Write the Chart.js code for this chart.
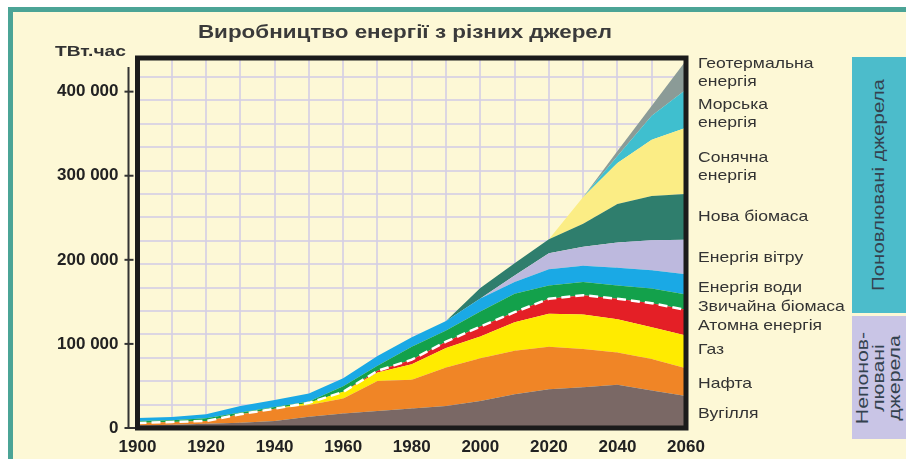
<!DOCTYPE html>
<html>
<head>
<meta charset="utf-8">
<script src="https://cdn.jsdelivr.net/npm/chart.js@4.4.1/dist/chart.umd.min.js"></script>
<style>
body{margin:0;background:#fff;}
#wrap{position:relative;width:906px;height:459px;overflow:hidden;background:#fff;font-family:"Liberation Sans",Arial,sans-serif;}
#panel{position:absolute;left:8px;top:7px;right:0;bottom:0;background:#fdf8d6;border-top:5px solid #4ba496;border-left:5px solid #4ba496;}
#chart{position:absolute;left:0;top:0;}
.lbl{position:absolute;left:698px;font-size:15px;line-height:18px;color:#333;white-space:nowrap;transform:scaleX(1.17);transform-origin:0 0;}
.box{position:absolute;left:852px;width:54px;}
.rot{position:absolute;left:50%;top:50%;white-space:nowrap;text-align:center;color:#34424f;}
</style>
</head>
<body>
<div id="wrap">
  <div id="panel"></div>
  <div class="box" style="top:57px;height:256px;background:#4cbccb;">
    <div class="rot" style="font-size:17px;transform:translate(-50%,-50%) rotate(-90deg) scaleX(1.2);">Поновлювані джерела</div>
  </div>
  <div class="box" style="top:316px;height:123px;background:#c9c5e6;">
    <div class="rot" style="font-size:17px;line-height:16px;transform:translate(-50%,-50%) rotate(-90deg) scaleX(1.25);">Непонов-<br>лювані<br>джерела</div>
  </div>
  <canvas id="chart" width="906" height="459"></canvas>
  <div style="position:absolute;left:405px;top:21px;font-size:19px;line-height:22px;font-weight:bold;color:#3a3a3a;white-space:nowrap;transform:translateX(-50%) scaleX(1.18);">Виробництво енергії з різних джерел</div>
  <div style="position:absolute;left:55px;top:42px;font-size:15px;line-height:18px;font-weight:bold;color:#333;white-space:nowrap;transform:scaleX(1.28);transform-origin:0 0;">ТВт.час</div>
  <div class="lbl" style="top:54px;">Геотермальна<br>енергія</div>
  <div class="lbl" style="top:95px;">Морська<br>енергія</div>
  <div class="lbl" style="top:148px;">Сонячна<br>енергія</div>
  <div class="lbl" style="top:207px;">Нова біомаса</div>
  <div class="lbl" style="top:248px;">Енергія вітру</div>
  <div class="lbl" style="top:278px;">Енергія води</div>
  <div class="lbl" style="top:297px;">Звичайна біомаса</div>
  <div class="lbl" style="top:316px;">Атомна енергія</div>
  <div class="lbl" style="top:340px;">Газ</div>
  <div class="lbl" style="top:374px;">Нафта</div>
  <div class="lbl" style="top:404px;">Вугілля</div>
</div>
<script>
// values, TWh per year
const years   = [1900,1910,1920,1930,1940,1950,1960,1970,1980,1990,2000,2010,2020,2030,2040,2050,2060];
const coal    = [3000,4000,5000,6300,8400,13500,17100,20300,23300,26300,32200,40200,46200,48600,51300,44500,38200];
const oil     = [3000,3200,3400,10100,14600,14000,18100,35700,34000,45700,50800,51700,50500,45400,38600,37500,32800];
const gas     = [0,0,0,0,0,2400,7800,10000,18500,23000,25700,33800,39100,40900,39400,37800,38900];
const nuclear = [0,0,0,0,0,0,0,2000,5400,7700,11900,12000,17900,23100,24400,28600,30600];
const tradBio = [2400,2000,3200,1900,2000,1500,6600,6000,15500,13100,17900,21900,15900,15500,15900,17600,18300];
const hydro   = [3600,3900,4800,8000,8400,9600,9500,11500,11100,11400,15500,13900,19100,19300,21100,21500,23900];
const wind    = [0,0,0,0,0,0,0,0,0,0,0,8000,19100,22700,29800,35800,41200];
const newBio  = [0,0,0,0,0,0,0,0,0,0,12600,14300,16700,27500,45800,52500,54300];
const solar   = [0,0,0,0,0,0,0,0,0,0,0,0,0,31600,48900,66900,78800];
const marine  = [0,0,0,0,0,0,0,0,0,0,0,0,0,0,8400,28600,45400];
const geo     = [0,0,0,0,0,0,0,0,0,0,0,0,0,0,5900,12000,34600];
const yTicks  = [0,100000,200000,300000,400000];

const layers = [
  ['Вугілля', coal, '#7a6865'],
  ['Нафта', oil, '#f08526'],
  ['Газ', gas, '#ffeb00'],
  ['Атомна енергія', nuclear, '#e41f26'],
  ['Звичайна біомаса', tradBio, '#13a14b'],
  ['Енергія води', hydro, '#1aa9e5'],
  ['Енергія вітру', wind, '#bdb9de'],
  ['Нова біомаса', newBio, '#2f7e6d'],
  ['Сонячна енергія', solar, '#fbed85'],
  ['Морська енергія', marine, '#3fbfcf'],
  ['Геотермальна енергія', geo, '#8b9b97']
];
// top of non-renewable part (white dashed border)
const nonRenew = years.map((_,i)=>coal[i]+oil[i]+gas[i]+nuclear[i]);

const gridColor = 'rgba(214,208,228,0.85)';
const font = {family:"'Liberation Sans', Arial, sans-serif", size:17, weight:'bold'};
const fmt = v => String(v).replace(/\B(?=(\d{3})+(?!\d))/g,' ');

const datasets = layers.map(([label,data,color],i)=>({
  label, data, backgroundColor:color, borderWidth:0, pointRadius:0,
  fill: i===0 ? 'origin' : '-1', tension:0, stack:'a'
}));
datasets.push({label:'межа', data:nonRenew, stack:'b', fill:false, borderColor:'#ffffff',
  borderDash:[9,5], borderWidth:2.5, pointRadius:0, tension:0, order:-1});

const framePlugin = {
  id:'frame',
  afterDraw(chart){
    const {ctx, chartArea:a, scales:{y}} = chart;
    ctx.save();
    ctx.strokeStyle='#333'; ctx.lineWidth=2;
    const ax = a.left-9;
    ctx.beginPath(); ctx.moveTo(ax, a.top+9); ctx.lineTo(ax, a.bottom); ctx.stroke();
    ctx.fillStyle='#222';
    ctx.font = 'bold 17px "Liberation Sans", Arial, sans-serif';
    ctx.textAlign='right'; ctx.textBaseline='middle';
    yTicks.forEach(v=>{
      const py = y.getPixelForValue(v);
      ctx.beginPath(); ctx.moveTo(ax-4, py); ctx.lineTo(v===0 ? a.left : ax+5, py); ctx.stroke();
      ctx.fillText(fmt(v), a.left-19, py);
    });
    ctx.strokeStyle='#1b1b1b'; ctx.lineWidth=5;
    ctx.strokeRect(a.left, a.top, a.right-a.left, a.bottom-a.top);
    ctx.restore();
  }
};

new Chart(document.getElementById('chart'),{
  type:'line',
  data:{labels:years, datasets},
  options:{
    responsive:false, animation:false,
    layout:{padding:{left:0, top:58, right:220, bottom:0}},
    plugins:{legend:{display:false}, tooltip:{enabled:false}},
    scales:{
      x:{
        z:1, offset:false,
        grid:{color:gridColor, lineWidth:2, drawTicks:false},
        border:{display:false},
        ticks:{autoSkip:false, maxRotation:0, padding:9, color:'#222', font,
          callback:(v,i)=> i%2===0 ? years[i] : ''},
        afterFit:s=>{ s.height = 31; }
      },
      y:{
        stacked:true, min:0, max:440000,
        grid:{display:false, drawTicks:false},
        border:{display:false},
        ticks:{display:false, stepSize:100000},
        afterFit:s=>{ s.width = 137.5; }
      },
      y2:{
        position:'right', z:1, min:0, max:15.81,
        grid:{color:gridColor, lineWidth:2, drawTicks:false},
        border:{display:false},
        ticks:{display:false, stepSize:1},
        afterFit:s=>{ s.width = 0; }
      }
    }
  },
  plugins:[framePlugin]
});
</script>
</body>
</html>
